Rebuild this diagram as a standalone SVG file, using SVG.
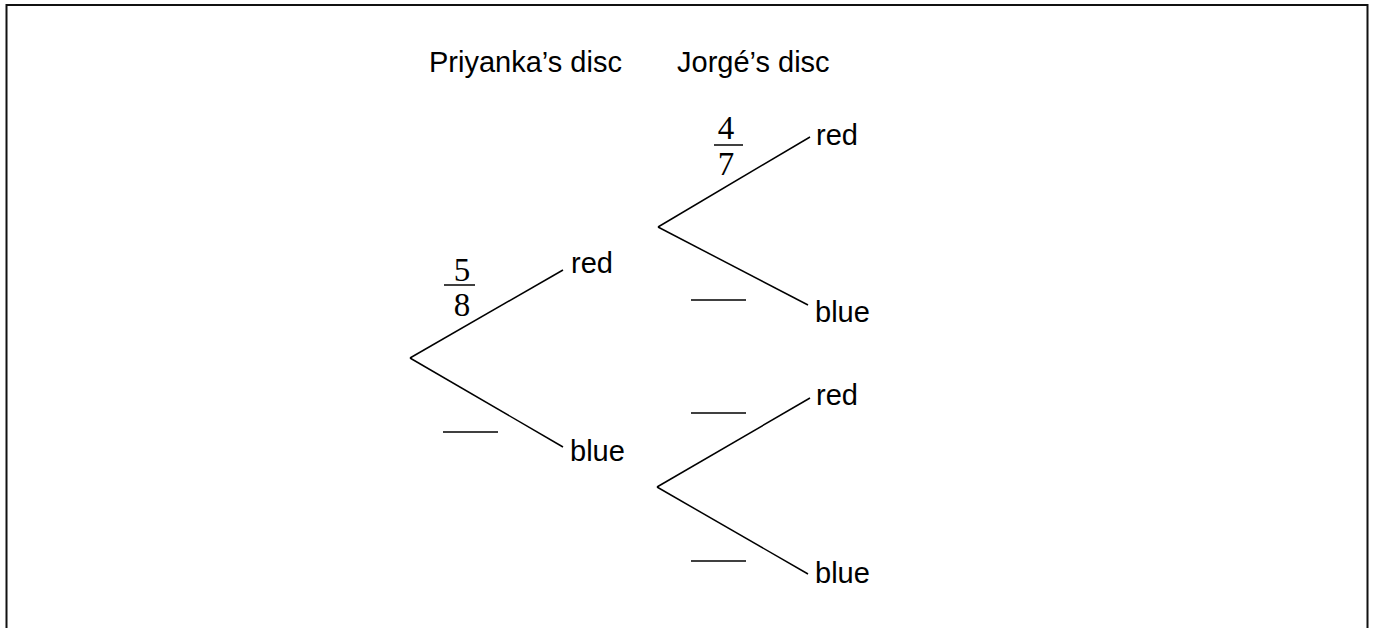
<svg xmlns="http://www.w3.org/2000/svg" width="1375" height="628" viewBox="0 0 1375 628">
<style>
.lbl{font-family:"Liberation Sans",Arial,sans-serif;font-size:29px;fill:#000}
.frac{font-family:"Liberation Serif","Times New Roman",serif;font-size:33px;fill:#000;text-anchor:middle}
.br{stroke:#000;stroke-width:1.5;fill:none}
.blank{stroke:#000;stroke-width:1.5}
</style>
<rect width="1375" height="628" fill="#fff"/>
<path d="M6.5,628 V5 H1367.5 V628" fill="none" stroke="#111" stroke-width="2"/>
<g id="titles">
<text class="lbl" x="429" y="72">Priyanka’s disc</text>
<text class="lbl" x="677" y="72">Jorgé’s disc</text>
</g>
<g id="connectors">
<line class="br" x1="410" y1="358" x2="563" y2="270"/>
<line class="br" x1="410" y1="358" x2="563" y2="447"/>
<line class="br" x1="658" y1="227" x2="810" y2="137"/>
<line class="br" x1="658" y1="227" x2="808" y2="305"/>
<line class="br" x1="657" y1="487" x2="810" y2="398"/>
<line class="br" x1="657" y1="487" x2="808" y2="574"/>
</g>
<g id="p-red"><text class="lbl" x="571" y="273">red</text></g>
<g id="p-blue"><text class="lbl" x="570" y="461">blue</text></g>
<g id="j-red-red"><text class="lbl" x="816" y="145">red</text></g>
<g id="j-red-blue"><text class="lbl" x="815" y="322">blue</text></g>
<g id="j-blue-red"><text class="lbl" x="816" y="405">red</text></g>
<g id="j-blue-blue"><text class="lbl" x="815" y="583">blue</text></g>
<g id="prob-p-red">
<text class="frac" x="462" y="281">5</text>
<line class="blank" x1="444" y1="285" x2="475" y2="285"/>
<text class="frac" x="462" y="316">8</text>
</g>
<g id="prob-p-blue"><line class="blank" x1="443" y1="432" x2="498" y2="432"/></g>
<g id="prob-j-red-red">
<text class="frac" x="726" y="139">4</text>
<line class="blank" x1="714" y1="145" x2="743" y2="145"/>
<text class="frac" x="726" y="175">7</text>
</g>
<g id="prob-j-red-blue"><line class="blank" x1="691" y1="300" x2="746" y2="300"/></g>
<g id="prob-j-blue-red"><line class="blank" x1="691" y1="413" x2="746" y2="413"/></g>
<g id="prob-j-blue-blue"><line class="blank" x1="691" y1="561" x2="746" y2="561"/></g>
</svg>
